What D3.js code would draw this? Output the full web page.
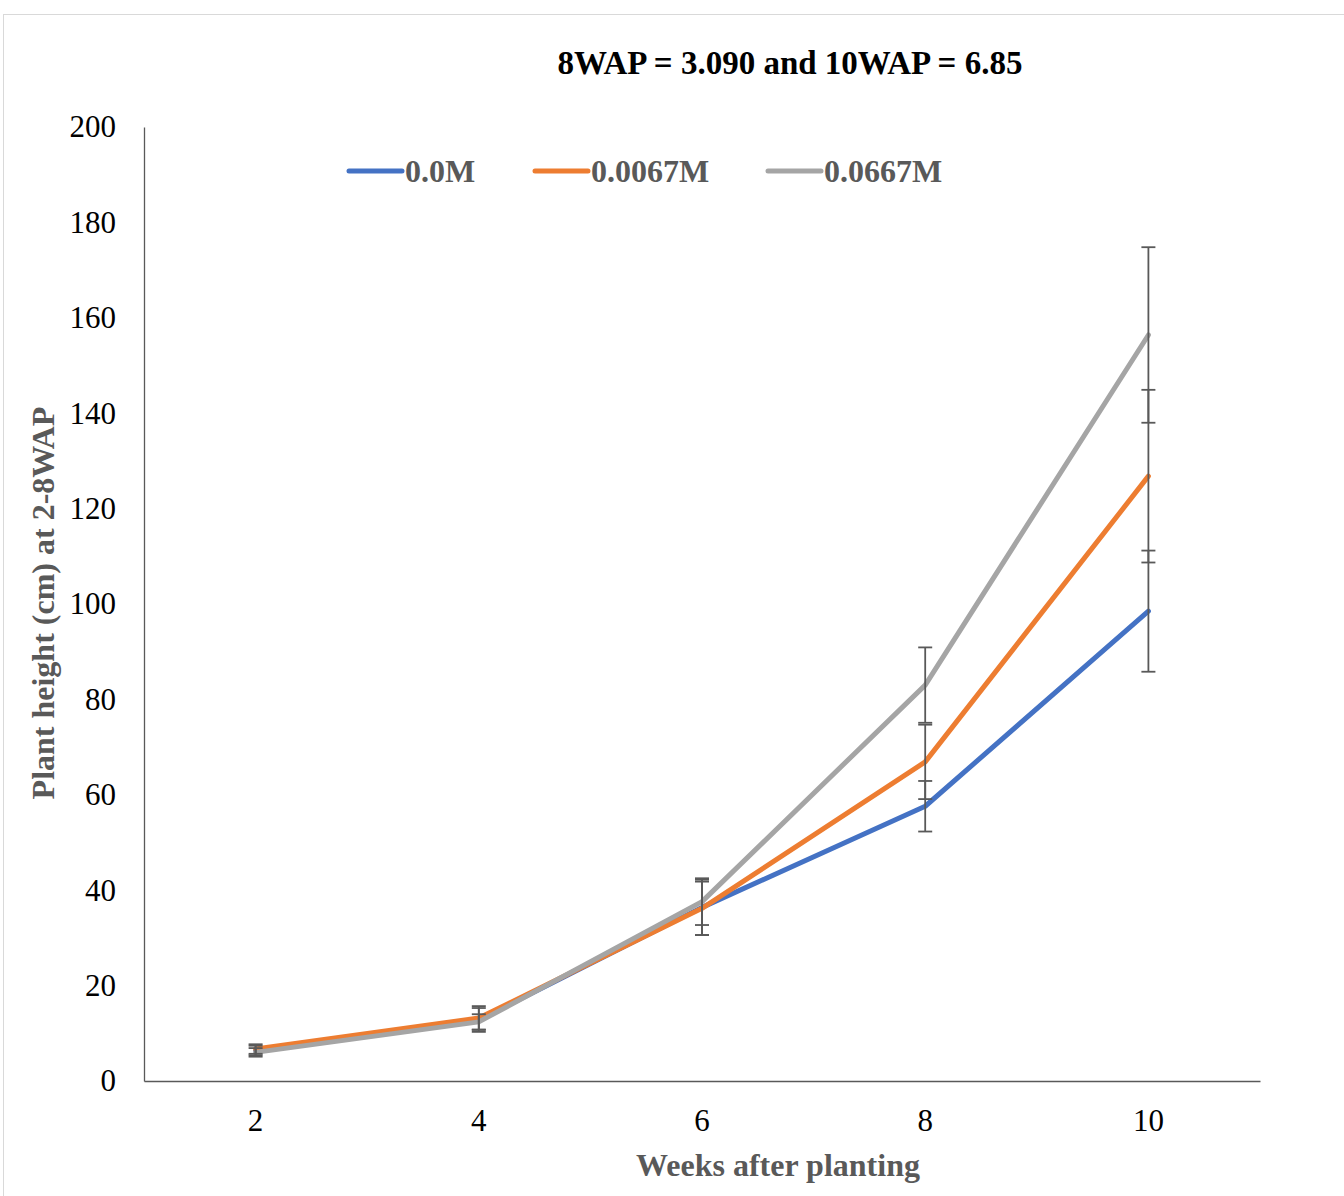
<!DOCTYPE html>
<html>
<head>
<meta charset="utf-8">
<script src="https://cdn.jsdelivr.net/npm/d3@7"></script>
<style>
  html, body { margin: 0; padding: 0; background: #fff; }
  svg { display: block; }
</style>
</head>
<body>
<svg id="chart" width="1344" height="1196"></svg>
<script>
// Weeks after planting
const weeks = ["2", "4", "6", "8", "10"];
// Treatment names
const seriesNames = ["0.0M", "0.0067M", "0.0667M"];
const seriesColors = ["#4472C4", "#ED7D31", "#A5A5A5"];
// Mean plant height (cm)
const height00 = [6.4, 12.8, 36.4, 57.6, 98.5];
const height0067 = [6.7, 13.2, 36.2, 66.9, 126.8];
const height0667 = [6.0, 12.4, 37.6, 83.0, 156.4];
// Error bar half-widths (cm)
const err00 = [1.0, 2.5, 5.8, 5.3, 12.7];
const err0067 = [1.0, 2.5, 5.6, 7.8, 18.1];
const err0667 = [0.9, 1.6, 4.9, 7.9, 18.4];
const yTicks = [0, 20, 40, 60, 80, 100, 120, 140, 160, 180, 200];

const titleText = "8WAP = 3.090 and 10WAP = 6.85";
const xTitle = "Weeks after planting";
const yTitle = "Plant height (cm) at 2-8WAP";

const series = [
  { name: seriesNames[0], color: seriesColors[0], values: height00, errs: err00 },
  { name: seriesNames[1], color: seriesColors[1], values: height0067, errs: err0067 },
  { name: seriesNames[2], color: seriesColors[2], values: height0667, errs: err0667 }
];

const svg = d3.select("#chart");
const serif = "'Liberation Serif', 'Times New Roman', serif";

// outer chart frame
svg.append("rect")
  .attr("x", 3.5).attr("y", 14.5)
  .attr("width", 1400).attr("height", 1300)
  .attr("fill", "#fff").attr("stroke", "#d9d9d9").attr("stroke-width", 1);

const plot = { left: 144, right: 1260, top: 127, bottom: 1081 };

const x = d3.scaleBand().domain(weeks).range([plot.left, plot.right]);
const y = d3.scaleLinear().domain([0, 200]).range([plot.bottom, plot.top]);
const cx = w => x(w) + x.bandwidth() / 2;

// title
svg.append("text")
  .attr("x", 790).attr("y", 74)
  .attr("text-anchor", "middle")
  .attr("font-family", serif).attr("font-weight", "bold")
  .attr("font-size", 33).attr("fill", "#000")
  .text(titleText);

// y axis
const yAxis = d3.axisLeft(y).tickValues(yTicks).tickSize(0).tickPadding(28);
const gy = svg.append("g").attr("transform", `translate(${plot.left},0)`).call(yAxis);
gy.select(".domain").attr("stroke", "#595959").attr("stroke-width", 1.3);
gy.selectAll("text")
  .attr("font-family", serif).attr("font-size", 31).attr("fill", "#000");

// x axis
const xAxis = d3.axisBottom(x).tickSize(0);
const gx = svg.append("g").attr("transform", `translate(0,${plot.bottom})`).call(xAxis);
gx.select(".domain").attr("stroke", "#595959").attr("stroke-width", 1.3);
gx.selectAll("text")
  .attr("y", 39).attr("dy", "0.35em")
  .attr("font-family", serif).attr("font-size", 31).attr("fill", "#000");

// axis titles
svg.append("text")
  .attr("x", 778).attr("y", 1176)
  .attr("text-anchor", "middle")
  .attr("font-family", serif).attr("font-weight", "bold")
  .attr("font-size", 32).attr("fill", "#595959")
  .text(xTitle);

svg.append("text")
  .attr("transform", `translate(54,603) rotate(-90)`)
  .attr("text-anchor", "middle")
  .attr("font-family", serif).attr("font-weight", "bold")
  .attr("font-size", 32).attr("fill", "#595959")
  .text(yTitle);

// series lines
const line = d3.line().x((d, i) => cx(weeks[i])).y(d => y(d));
svg.append("g").selectAll("path")
  .data(series).join("path")
  .attr("d", s => line(s.values))
  .attr("fill", "none")
  .attr("stroke", s => s.color)
  .attr("stroke-width", 5)
  .attr("stroke-linejoin", "round")
  .attr("stroke-linecap", "round");

// error bars
const eb = svg.append("g").attr("stroke", "#595959").attr("stroke-width", 1.8);
series.forEach(s => {
  s.values.forEach((v, i) => {
    const px = cx(weeks[i]);
    const top = y(v + s.errs[i]);
    const bot = y(v - s.errs[i]);
    eb.append("line").attr("x1", px).attr("x2", px).attr("y1", top).attr("y2", bot);
    eb.append("line").attr("x1", px - 7).attr("x2", px + 7).attr("y1", top).attr("y2", top);
    eb.append("line").attr("x1", px - 7).attr("x2", px + 7).attr("y1", bot).attr("y2", bot);
  });
});

// legend
const legendX = [349, 535, 768];
const lg = svg.append("g");
series.forEach((s, i) => {
  lg.append("line")
    .attr("x1", legendX[i]).attr("x2", legendX[i] + 53)
    .attr("y1", 171).attr("y2", 171)
    .attr("stroke", s.color).attr("stroke-width", 5)
    .attr("stroke-linecap", "round");
  lg.append("text")
    .attr("x", legendX[i] + 56).attr("y", 182)
    .attr("font-family", serif).attr("font-weight", "bold")
    .attr("font-size", 32).attr("fill", "#595959")
    .text(s.name);
});
</script>
</body>
</html>
